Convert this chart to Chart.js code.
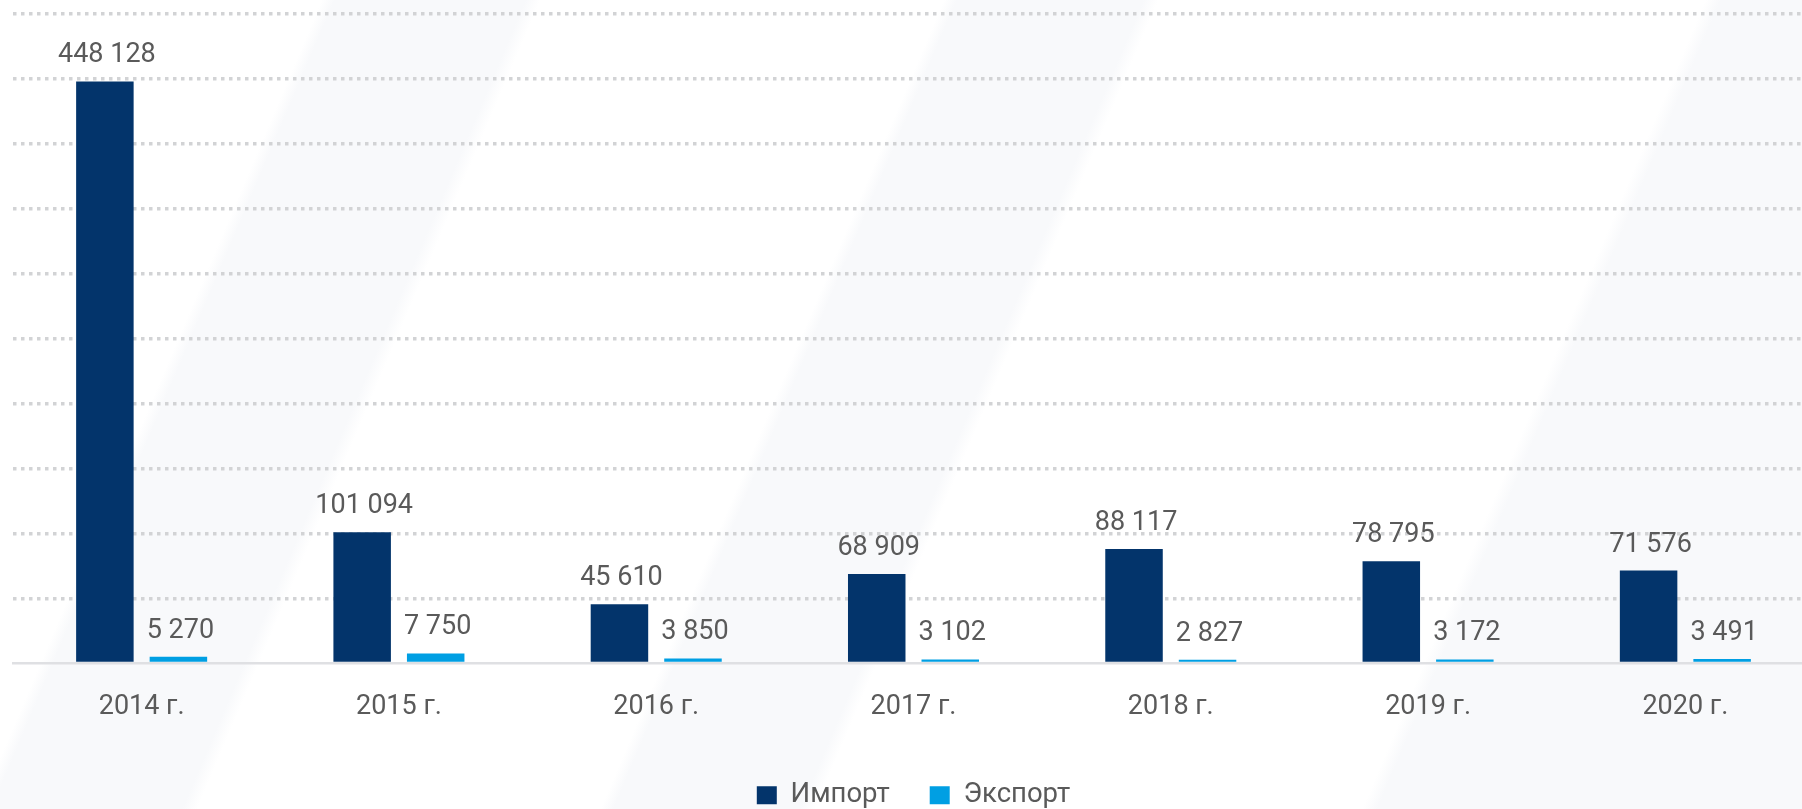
<!DOCTYPE html>
<html lang="ru">
<head>
  <meta charset="utf-8">
  <title>Импорт и экспорт</title>
  <style>
    html, body {
      margin: 0;
      padding: 0;
      overflow: hidden;
    }
    /* faint diagonal bands like the original backdrop */
    #wrap {
      width: 1802px;
      height: 809px;
      overflow: hidden;
      background: linear-gradient(113deg,
        #ffffff 0%, #ffffff 15%,
        #f8f9fb 15.6%, #f8f9fb 24.5%,
        #ffffff 25.2%, #ffffff 44%,
        #f8f9fb 44.6%, #f8f9fb 53.3%,
        #ffffff 54%, #ffffff 79.5%,
        #f8f9fb 80.2%, #f8f9fb 100%);
    }
  </style>
  <script src="https://cdn.jsdelivr.net/npm/chart.js"></script>
</head>
<body>
  <div id="wrap">
    <canvas id="barChart" width="1814" height="819"></canvas>
  </div>
  <script>
    const years = ['2014 г.', '2015 г.', '2016 г.', '2017 г.', '2018 г.', '2019 г.', '2020 г.'];
    const importValues = [448128, 101094, 45610, 68909, 88117, 78795, 71576];
    const exportValues = [5270, 7750, 3850, 3102, 2827, 3172, 3491];
    const seriesNames = ['Импорт', 'Экспорт'];

    const textColor = '#5a5a5a';
    const fontFamily = 'Roboto, "Noto Sans", sans-serif';

    // 448128 -> "448 128"
    function fmt(v) {
      return String(v).replace(/\B(?=(\d{3})+(?!\d))/g, ' ');
    }

    // draws the value above every bar
    const valueLabels = {
      id: 'valueLabels',
      afterDatasetsDraw(chart) {
        const ctx = chart.ctx;
        ctx.save();
        ctx.font = '27px ' + fontFamily;
        ctx.fillStyle = textColor;
        ctx.textAlign = 'center';
        ctx.textBaseline = 'alphabetic';
        chart.data.datasets.forEach((ds, i) => {
          const meta = chart.getDatasetMeta(i);
          meta.data.forEach((bar, j) => {
            ctx.fillText(fmt(ds.data[j]), bar.x + 2, bar.y - 19);
          });
        });
        ctx.restore();
      }
    };

    const data = {
      labels: years,
      datasets: [{
        label: seriesNames[0],
        data: importValues,
        backgroundColor: '#03346b',
        barPercentage: 0.782,
        categoryPercentage: 0.5716
      }, {
        label: seriesNames[1],
        data: exportValues,
        backgroundColor: '#009fe3',
        barPercentage: 0.782,
        categoryPercentage: 0.5716
      }]
    };

    const options = {
      responsive: false,
      animation: false,
      layout: {
        padding: { left: 13, top: 14, right: 0, bottom: 0 }
      },
      plugins: {
        tooltip: { enabled: false },
        legend: {
          position: 'bottom',
          labels: {
            boxWidth: 20,
            boxHeight: 18,
            padding: 40,
            color: textColor,
            font: { family: fontFamily, size: 27.5 }
          }
        }
      },
      scales: {
        x: {
          grid: { display: false },
          border: { display: true, color: '#dfe0e3', width: 2.5 },
          ticks: {
            color: textColor,
            padding: 20,
            font: { family: fontFamily, size: 27 }
          },
          afterFit(scale) {
            scale.height = 78;
          }
        },
        y: {
          min: 0,
          max: 500000,
          ticks: { display: false, stepSize: 50000 },
          grid: {
            drawTicks: false,
            lineWidth: 3.5,
            color: (c) => c.tick && c.tick.value === 0 ? 'rgba(0,0,0,0)' : '#d2d3d5'
          },
          border: { display: false, dash: [3.5, 4.5] }
        }
      }
    };

    const ctx = document.getElementById('barChart').getContext('2d');
    const barChartInstance = new Chart(ctx, {
      type: 'bar',
      data: data,
      options: options,
      plugins: [valueLabels]
    });
  </script>
</body>
</html>
